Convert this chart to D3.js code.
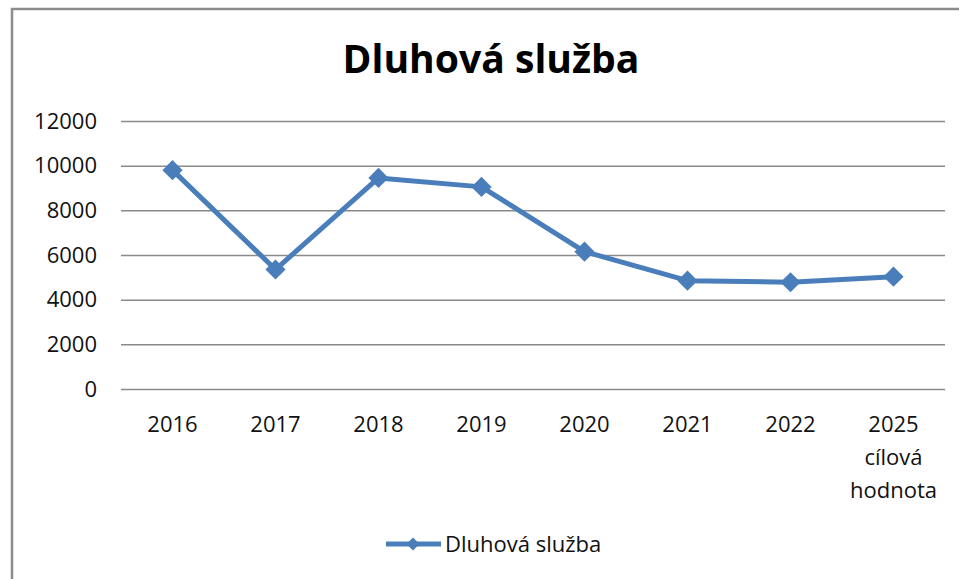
<!DOCTYPE html>
<html>
<head>
<meta charset="utf-8">
<script src="https://cdn.jsdelivr.net/npm/d3@7"></script>
<style>
  body { margin: 0; background: #fff; }
  svg { display: block; font-family: 'Open Sans', sans-serif; }
</style>
</head>
<body>
<svg width="959" height="579"></svg>
<script>
const title = 'Dluhová služba'
const seriesName = 'Dluhová služba'
const categories = ['2016', '2017', '2018', '2019', '2020', '2021', '2022', '2025\ncílová\nhodnota']
const values = [9800, 5350, 9450, 9050, 6150, 4850, 4780, 5030]
const yTicks = [0, 2000, 4000, 6000, 8000, 10000, 12000]

const blue = '#4a7ebb'
const svg = d3.select('svg')

// chart frame (only top and left edges are visible in the crop)
svg.append('rect')
  .attr('x', 12).attr('y', 9)
  .attr('width', 980).attr('height', 600)
  .attr('fill', 'none')
  .attr('stroke', '#8c8c8c')
  .attr('stroke-width', 2.5)

const margin = { top: 121, left: 121 }
const width = 824
const height = 268

const x = d3.scaleBand().domain(categories).range([0, width])
const y = d3.scaleLinear().domain([0, 12000]).range([height, 0])

const g = svg.append('g')
  .attr('transform', 'translate(' + margin.left + ',' + margin.top + ')')

// gridlines + y labels
const yAxis = g.append('g')
  .call(d3.axisLeft(y).tickValues(yTicks).tickSize(-width).tickPadding(24).tickFormat(d3.format('d')))
yAxis.select('.domain').remove()
yAxis.selectAll('.tick line').attr('stroke', '#8a8a8a').attr('stroke-width', 1.5)
yAxis.selectAll('.tick text')
  .attr('font-size', 22).attr('fill', '#111')
  .attr('font-family', "'Open Sans', sans-serif")

// x labels
const xAxis = g.append('g')
  .attr('transform', 'translate(0,' + height + ')')
  .call(d3.axisBottom(x).tickSize(0))
xAxis.select('.domain').remove()
xAxis.selectAll('.tick text')
  .attr('font-size', 22).attr('fill', '#111')
  .attr('font-family', "'Open Sans', sans-serif")
  .attr('y', 43).attr('dy', 0)
  .each(function (d) {
    const t = d3.select(this)
    t.text(null)
    d.split('\n').forEach((line, i) => {
      t.append('tspan').attr('x', 0).attr('dy', i === 0 ? 0 : 33).text(line)
    })
  })

// line
const line = d3.line()
  .x((d, i) => x(categories[i]) + x.bandwidth() / 2)
  .y((d) => y(d))

g.append('path')
  .datum(values)
  .attr('d', line)
  .attr('fill', 'none')
  .attr('stroke', blue)
  .attr('stroke-width', 5)
  .attr('stroke-linejoin', 'round')

const diamond = d3.symbol().type(d3.symbolDiamond2).size(260)
g.selectAll('.marker')
  .data(values)
  .enter().append('path')
  .attr('class', 'marker')
  .attr('d', diamond)
  .attr('transform', (d, i) => 'translate(' + (x(categories[i]) + x.bandwidth() / 2) + ',' + y(d) + ')')
  .attr('fill', blue)

// title, fitted to the width of the original
const tt = svg.append('text')
  .attr('x', 491).attr('y', 73)
  .attr('text-anchor', 'middle')
  .attr('font-weight', 'bold')
  .attr('font-size', 40)
  .attr('fill', '#000')
  .text(title)
const tw = tt.node().getComputedTextLength()
tt.attr('font-size', 40 * 297 / tw)

// legend
const lg = svg.append('g').attr('transform', 'translate(386,544)')
lg.append('line')
  .attr('x1', 0).attr('x2', 55)
  .attr('stroke', blue).attr('stroke-width', 5)
lg.append('path')
  .attr('d', d3.symbol().type(d3.symbolDiamond2).size(110))
  .attr('transform', 'translate(27,0)')
  .attr('fill', blue)
lg.append('text')
  .attr('x', 59).attr('y', 8)
  .attr('font-size', 22).attr('fill', '#111')
  .text(seriesName)
</script>
</body>
</html>
